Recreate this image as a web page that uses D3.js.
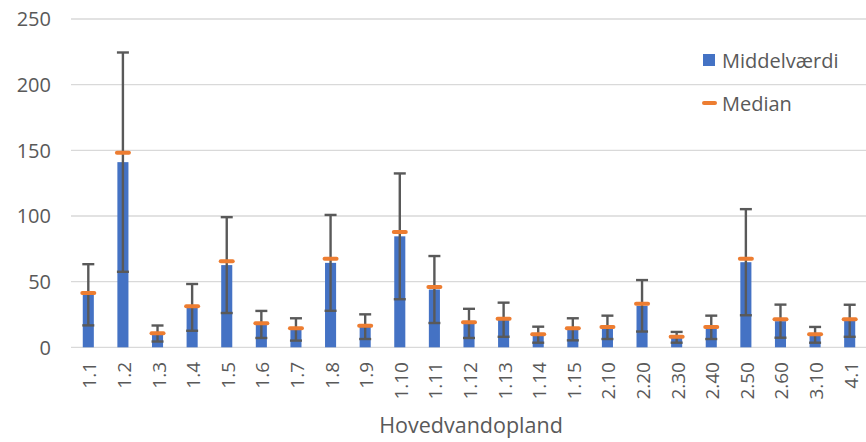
<!DOCTYPE html>
<html><head><meta charset="utf-8">
<script src="https://cdn.jsdelivr.net/npm/d3@7"></script>
<style>body{margin:0;background:#fff;} svg{display:block;}</style>
</head><body>
<svg id="c" width="866" height="442"></svg>
<script>
const categories = ["1.1","1.2","1.3","1.4","1.5","1.6","1.7","1.8","1.9","1.10","1.11","1.12","1.13","1.14","1.15","2.10","2.20","2.30","2.40","2.50","2.60","3.10","4.1"];
const meanValues = [40, 141, 10.5, 30.4, 62.6, 17.4, 13.6, 64.3, 15.7, 84.5, 44, 18.2, 21, 9.6, 13.7, 15.2, 31.6, 7.6, 15.2, 64.8, 19.9, 9.5, 20.2];
const medianValues = [41.3, 148.2, 10.7, 31.2, 65.5, 18.3, 14.5, 67.5, 16.5, 87.8, 45.9, 19, 21.8, 9.9, 14.5, 15.5, 33.2, 8.1, 15.5, 67.5, 21.3, 9.9, 21.3];
const sdValues = [23.3, 83.5, 6.1, 17.8, 36.5, 10.3, 8.5, 36.5, 9.4, 47.9, 25.5, 11.1, 13, 6.1, 8.4, 8.9, 19.6, 4.1, 8.9, 40.4, 12.6, 6, 12.2];
const yTicks = [0, 50, 100, 150, 200, 250];
const seriesNames = ["Middelværdi", "Median"];
const xTitle = "Hovedvandopland";

const svg = d3.select("#c");
const font = "'Open Sans', sans-serif";
const textColor = "#595959";

const x = d3.scaleBand().domain(categories).range([71, 867]).paddingInner(0.68).paddingOuter(0.34);
const y = d3.scaleLinear().domain([0, 250]).range([347.3, 19]);

// gridlines
svg.append("g").selectAll("line").data(yTicks).join("line")
  .attr("x1", 71).attr("x2", 866)
  .attr("y1", d => y(d)).attr("y2", d => y(d))
  .attr("stroke", "#d9d9d9").attr("stroke-width", 1.3);

// y axis labels
svg.append("g").selectAll("text").data(yTicks).join("text")
  .attr("x", 51).attr("y", d => y(d)).attr("dy", "0.36em")
  .attr("text-anchor", "end").attr("font-family", font).attr("font-size", 20)
  .attr("fill", textColor).text(d => d);

const data = categories.map((c, i) => ({c, mean: meanValues[i], med: medianValues[i], sd: sdValues[i]}));
const bw = x.bandwidth();

// bars
svg.append("g").selectAll("rect").data(data).join("rect")
  .attr("x", d => x(d.c)).attr("width", bw)
  .attr("y", d => y(d.mean)).attr("height", d => y(0) - y(d.mean))
  .attr("fill", "#4472c4");

// error bars
const eb = svg.append("g").attr("stroke", "#595959").attr("stroke-width", 2.4);
data.forEach(d => {
  const cx = x(d.c) + bw / 2;
  const lo = d.mean - d.sd, hi = d.mean + d.sd;
  eb.append("line").attr("x1", cx).attr("x2", cx).attr("y1", y(lo)).attr("y2", y(hi));
  eb.append("line").attr("x1", cx - 6).attr("x2", cx + 6).attr("y1", y(lo)).attr("y2", y(lo));
  eb.append("line").attr("x1", cx - 6).attr("x2", cx + 6).attr("y1", y(hi)).attr("y2", y(hi));
});

// median markers
svg.append("g").selectAll("line").data(data).join("line")
  .attr("x1", d => x(d.c) + bw / 2 - 6).attr("x2", d => x(d.c) + bw / 2 + 6)
  .attr("y1", d => y(d.med)).attr("y2", d => y(d.med))
  .attr("stroke", "#ed7d31").attr("stroke-width", 4).attr("stroke-linecap", "round");

// x labels rotated
svg.append("g").selectAll("text").data(categories).join("text")
  .attr("transform", d => `translate(${x(d) + bw / 2 + 8},362) rotate(-90)`)
  .attr("text-anchor", "end").attr("font-family", font).attr("font-size", 19)
  .attr("fill", textColor).text(d => d);

// x title
svg.append("text").attr("x", 471).attr("y", 433).attr("text-anchor", "middle")
  .attr("font-family", font).attr("font-size", 21.5).attr("fill", textColor).text(xTitle);

// legend
const lg = svg.append("g");
lg.append("rect").attr("x", 703).attr("y", 54).attr("width", 12).attr("height", 12).attr("fill", "#4472c4");
lg.append("text").attr("x", 722).attr("y", 67.5).attr("font-family", font).attr("font-size", 20)
  .attr("fill", textColor).text(seriesNames[0]);
lg.append("line").attr("x1", 704).attr("x2", 715).attr("y1", 103).attr("y2", 103)
  .attr("stroke", "#ed7d31").attr("stroke-width", 4).attr("stroke-linecap", "round");
lg.append("text").attr("x", 722).attr("y", 110.5).attr("font-family", font).attr("font-size", 20)
  .attr("fill", textColor).text(seriesNames[1]);
</script>
</body></html>
